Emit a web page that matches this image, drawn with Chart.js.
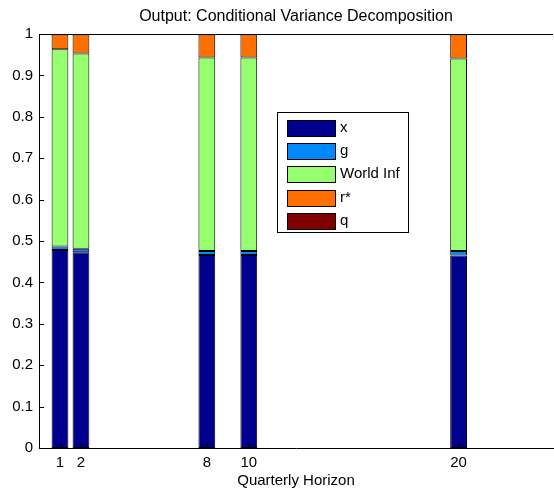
<!DOCTYPE html>
<html>
  <head>
    <title>Output: Conditional Variance Decomposition</title>
    <script src="https://cdn.jsdelivr.net/npm/chart.js"></script>
    <style>
      body {
        margin: 0;
        background-color: white;
      }
      .chart-container {
        width: 554px;
        height: 493px;
        position: relative;
      }
    </style>
  </head>
  <body>
    <div class="chart-container">
      <canvas id="cvdChart"></canvas>
    </div>

    <script>
      // horizons (quarters) and the share of each shock at that horizon
      const horizons = [1, 2, 8, 10, 20];
      const shockNames = ["x", "g", "World Inf", "r*", "q"];
      const shareX = [0.478, 0.473, 0.466, 0.466, 0.465];
      const shareG = [0.009, 0.008, 0.01, 0.01, 0.011];
      const shareWorldInf = [0.476, 0.472, 0.467, 0.467, 0.465];
      const shareRStar = [0.036, 0.046, 0.056, 0.056, 0.058];
      const shareQ = [0.001, 0.001, 0.001, 0.001, 0.001];
      const yTicks = [0, 0.1, 0.2, 0.3, 0.4, 0.5, 0.6, 0.7, 0.8, 0.9, 1];
      const chartTitle = "Output: Conditional Variance Decomposition";

      const colors = ["#00008F", "#0088FF", "#96FF70", "#FF7000", "#800000"];
      const shares = [shareX, shareG, shareWorldInf, shareRStar, shareQ];
      const FONT = "'Liberation Sans', Arial, sans-serif";

      const datasets = shares.map((arr, k) => ({
        label: shockNames[k],
        data: horizons.map((h, i) => ({ x: h, y: arr[i] })),
        backgroundColor: colors[k],
        borderColor: "#000",
        borderWidth: 1,
        borderSkipped: false,
        barPercentage: 1,
        categoryPercentage: 0.8,
      }));

      // matlab style: title over the axes, inward ticks, top box line, boxed legend
      const matlabAxes = {
        id: "matlabAxes",
        afterDraw(chart) {
          const c = chart.ctx;
          const a = chart.chartArea;
          const xs = chart.scales.x;
          const ys = chart.scales.y;
          c.save();
          c.fillStyle = "#000";
          c.font = "16px " + FONT;
          c.textAlign = "center";
          c.textBaseline = "middle";
          c.fillText(chartTitle, (a.left + a.right) / 2, 17);

          c.strokeStyle = "#000";
          c.lineWidth = 1;
          c.beginPath();
          c.moveTo(a.left, a.top + 0.5);
          c.lineTo(a.right, a.top + 0.5);
          yTicks.forEach((v) => {
            const y = Math.round(ys.getPixelForValue(v)) + 0.5;
            c.moveTo(a.left, y);
            c.lineTo(a.left + 5, y);
          });
          horizons.forEach((h) => {
            const x = Math.round(xs.getPixelForValue(h)) + 0.5;
            c.moveTo(x, a.bottom);
            c.lineTo(x, a.bottom - 5);
          });
          c.stroke();

          // legend
          const lx = 277.5, ly = 112.5, lw = 131, lh = 120;
          c.fillStyle = "#fff";
          c.fillRect(lx, ly, lw, lh);
          c.strokeRect(lx, ly, lw, lh);
          c.font = "15px " + FONT;
          c.textAlign = "left";
          chart.data.datasets.forEach((ds, i) => {
            const cy = 127.5 + i * 23.4;
            const top = Math.round(cy - 8) + 0.5;
            c.fillStyle = ds.backgroundColor;
            c.fillRect(287.5, top, 48, 16);
            c.strokeRect(287.5, top, 48, 16);
            c.fillStyle = "#000";
            c.fillText(ds.label, 340, cy);
          });
          c.restore();
        },
      };

      new Chart(document.getElementById("cvdChart"), {
        type: "bar",
        data: { datasets: datasets },
        plugins: [matlabAxes],
        options: {
          responsive: true,
          maintainAspectRatio: false,
          animation: false,
          layout: { padding: { left: 0, right: 1, top: 34, bottom: 0 } },
          plugins: {
            legend: { display: false },
            tooltip: { enabled: false },
            title: { display: false },
          },
          scales: {
            x: {
              type: "linear",
              stacked: true,
              offset: false,
              min: 0,
              max: 24.5,
              afterBuildTicks: (scale) => {
                scale.ticks = horizons.map((v) => ({ value: v }));
              },
              afterFit: (scale) => {
                scale.height = 45;
              },
              ticks: {
                color: "#000",
                padding: 6,
                maxRotation: 0,
                font: { family: FONT, size: 15 },
                callback: (v) => String(v),
              },
              grid: { display: false, drawTicks: false },
              border: { display: true, color: "#000", width: 1 },
              title: {
                display: true,
                text: "Quarterly Horizon",
                color: "#000",
                font: { family: FONT, size: 15 },
                padding: { top: 0, bottom: 3 },
              },
            },
            y: {
              stacked: true,
              min: 0,
              max: 1,
              afterBuildTicks: (scale) => {
                scale.ticks = yTicks.map((v) => ({ value: v }));
              },
              afterFit: (scale) => {
                scale.width = 39;
              },
              ticks: {
                color: "#000",
                padding: 6,
                font: { family: FONT, size: 15 },
                callback: (v) => String(v),
              },
              grid: { display: false, drawTicks: false },
              border: { display: true, color: "#000", width: 1 },
            },
          },
        },
      });
    </script>
  </body>
</html>
